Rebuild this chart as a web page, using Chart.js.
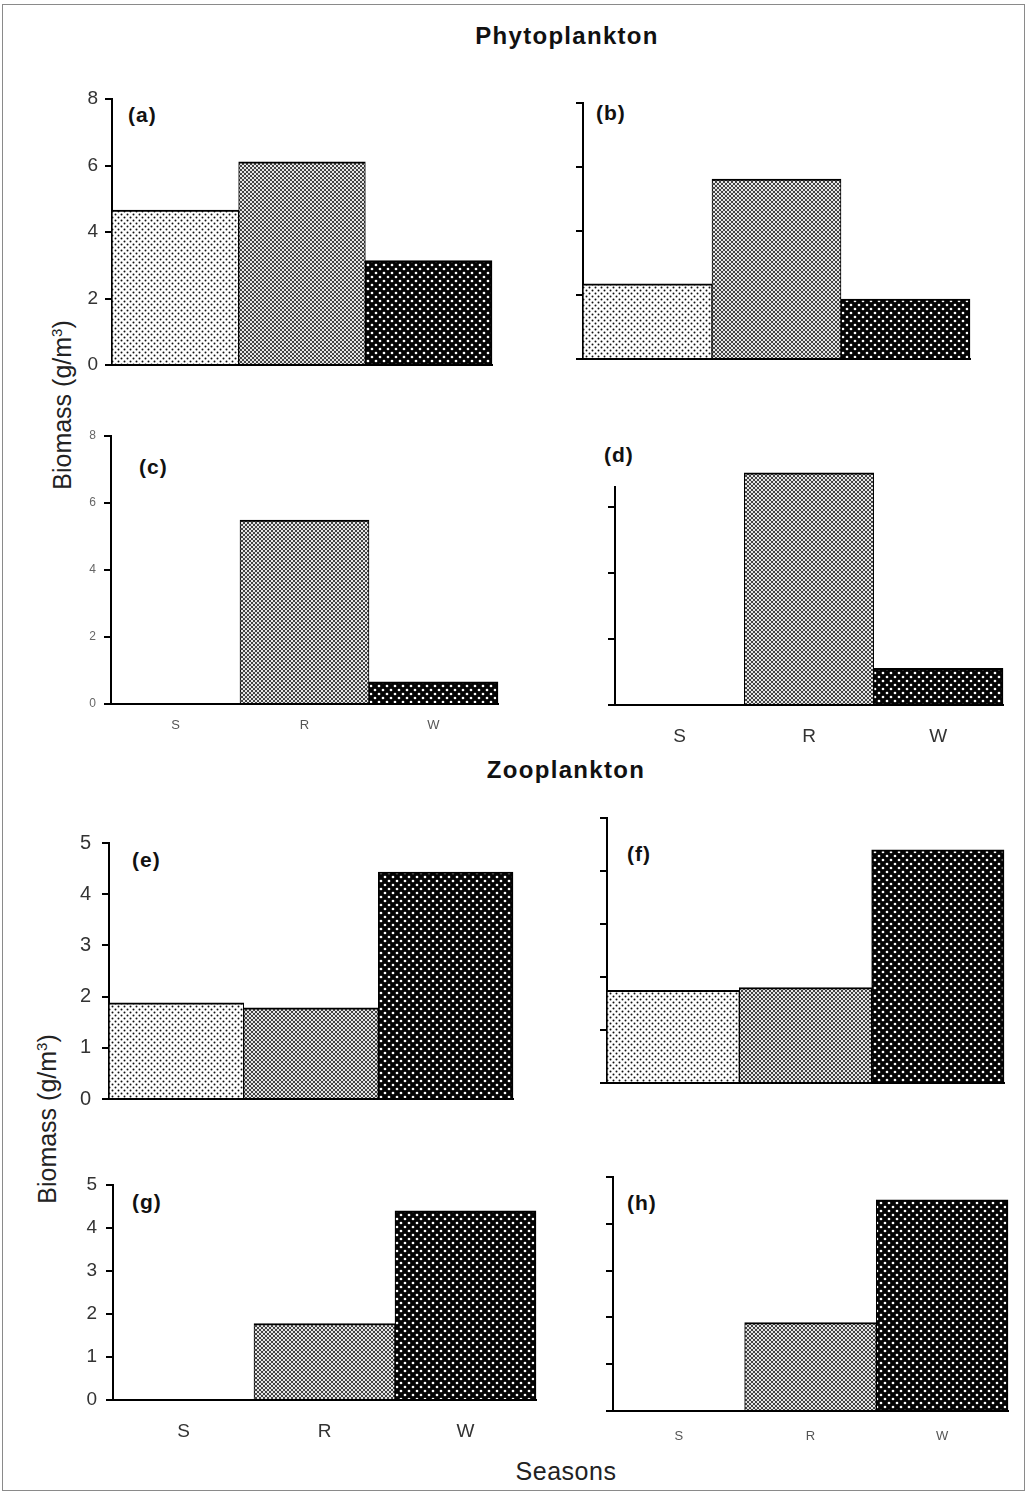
<!DOCTYPE html>
<html><head><meta charset="utf-8">
<script src="https://cdn.jsdelivr.net/npm/chart.js@4.4.1/dist/chart.umd.min.js"></script>
<style>
html,body{margin:0;padding:0;background:#fff;}
body{width:1028px;height:1493px;position:relative;overflow:hidden;font-family:"Liberation Sans",Arial,sans-serif;}
.frame{position:absolute;left:2px;top:4px;width:1021px;height:1485px;border:1px solid #8a8a8a;}
canvas{position:absolute;}
.t{position:absolute;line-height:1;white-space:nowrap;color:#111;}
.lbl{font-weight:bold;font-size:21px;letter-spacing:1px;transform:translateY(-50%);}
.ttl{font-weight:bold;font-size:24px;letter-spacing:1.3px;transform:translate(-50%,-50%);}
.ytl{font-size:25px;width:300px;text-align:center;transform:translate(-50%,-50%) rotate(-90deg);color:#222;}
</style></head><body>
<div class="frame"></div>
<div class="t ttl" style="left:567px;top:36px;">Phytoplankton</div>
<div class="t ttl" style="left:566px;top:770px;">Zooplankton</div>
<div class="t" style="left:566px;top:1471px;font-size:25px;letter-spacing:0.5px;transform:translate(-50%,-50%);color:#222;">Seasons</div>
<div class="t ytl" style="left:62px;top:405px;">Biomass (g/m<sup style="font-size:15px;">3</sup>)</div>
<div class="t ytl" style="left:47px;top:1119px;">Biomass (g/m<sup style="font-size:15px;">3</sup>)</div>
<div class="t lbl" style="left:128px;top:114px;">(a)</div>
<div class="t lbl" style="left:596px;top:112px;">(b)</div>
<div class="t lbl" style="left:139px;top:466px;">(c)</div>
<div class="t lbl" style="left:604px;top:454px;">(d)</div>
<div class="t lbl" style="left:132px;top:859px;">(e)</div>
<div class="t lbl" style="left:627px;top:853px;">(f)</div>
<div class="t lbl" style="left:132px;top:1201px;">(g)</div>
<div class="t lbl" style="left:627px;top:1202px;">(h)</div>
<canvas id="ca"></canvas><canvas id="cb"></canvas><canvas id="cc"></canvas><canvas id="cd"></canvas>
<canvas id="ce"></canvas><canvas id="cf"></canvas><canvas id="cg"></canvas><canvas id="ch"></canvas>
<script>
// ---- data ----
const seasons = ['S', 'R', 'W'];
const phytoA = [4.66, 6.11, 3.14];
const phytoB = [2.35, 5.62, 1.87];
const phytoC = [0, 5.49, 0.66];
const phytoD = [0, 7.03, 1.11];
const zooE = [1.88, 1.78, 4.43];
const zooF = [1.75, 1.80, 4.40];
const zooG = [0, 1.78, 4.40];
const zooH = [0, 1.89, 4.51];
const phytoMax = 8, phytoStep = 2;
const zooMax = 5, zooStep = 1;
const phytoDAxisMax = 6.6;

const FONT = '"Liberation Sans", Arial, sans-serif';

function makePattern(kind) {
  const c = document.createElement('canvas');
  const x = c.getContext('2d');
  if (kind === 'S') {
    c.width = 6; c.height = 6;
    x.fillStyle = '#ffffff'; x.fillRect(0, 0, 6, 6);
    x.fillStyle = '#111';
    x.beginPath(); x.arc(1.5, 1.5, 1.0, 0, Math.PI * 2); x.fill();
    x.beginPath(); x.arc(4.5, 4.5, 1.0, 0, Math.PI * 2); x.fill();
  } else if (kind === 'R') {
    c.width = 4; c.height = 4;
    x.fillStyle = '#e6e6e6'; x.fillRect(0, 0, 4, 4);
    x.fillStyle = '#444';
    x.fillRect(0, 0, 2, 2); x.fillRect(2, 2, 2, 2);
  } else {
    c.width = 8; c.height = 8;
    x.fillStyle = '#050505'; x.fillRect(0, 0, 8, 8);
    x.fillStyle = '#ffffff';
    x.beginPath(); x.arc(2, 2, 1.35, 0, Math.PI * 2); x.fill();
    x.beginPath(); x.arc(6, 6, 1.35, 0, Math.PI * 2); x.fill();
  }
  return x.createPattern(c, 'repeat');
}
const pats = [makePattern('S'), makePattern('R'), makePattern('W')];

function panel(id, values, s) {
  const leftW = 70, topPad = 24, rightPad = 12, bottomH = 50;
  const cv = document.getElementById(id);
  const cw = Math.round(s.R - s.L + leftW + rightPad);
  const ch = Math.round(s.B - s.T + topPad + bottomH);
  cv.width = cw; cv.height = ch;
  cv.style.width = cw + 'px'; cv.style.height = ch + 'px';
  cv.style.left = (s.L - leftW) + 'px';
  cv.style.top = (s.T - topPad) + 'px';
  new Chart(cv, {
    type: 'bar',
    data: {
      labels: seasons,
      datasets: [{
        data: values,
        backgroundColor: pats,
        borderColor: '#000',
        borderWidth: (c) => c.dataIndex === 2 ? {top: 2, left: 1, right: 2, bottom: 0} : {top: 2, left: 1, right: 1, bottom: 0},
        borderSkipped: false,
        barPercentage: 1,
        categoryPercentage: 1,
        clip: false
      }]
    },
    options: {
      responsive: false,
      devicePixelRatio: 1,
      animation: false,
      layout: {padding: {top: topPad, right: rightPad, left: 0, bottom: 0}},
      plugins: {legend: {display: false}, tooltip: {enabled: false}},
      scales: {
        x: {
          ticks: {display: !!s.xFont, padding: s.xPad || 0, color: s.xColor || '#333',
                  font: {family: FONT, size: s.xFont || 12}},
          grid: {display: false, drawTicks: false},
          border: {display: true, color: '#000', width: 2},
          afterFit: (sc) => { sc.height = bottomH; }
        },
        y: {
          min: 0, max: s.max,
          ticks: {stepSize: s.step, includeBounds: false, display: !!s.yFont,
                  padding: s.yPad || 8, color: s.yColor || '#333',
                  font: {family: FONT, size: s.yFont || 12}},
          grid: {drawOnChartArea: false, drawTicks: true, tickLength: 7, color: '#000', lineWidth: 2},
          border: {display: true, color: '#000', width: 2},
          afterFit: (sc) => { sc.width = leftW; }
        }
      }
    }
  });
}

panel('ca', phytoA, {L: 112, R: 492, T: 99, B: 365, max: phytoMax, step: phytoStep, yFont: 19, yColor: '#333', yPad: 7});
panel('cb', phytoB, {L: 583, R: 970, T: 103, B: 359, max: phytoMax, step: phytoStep});
panel('cc', phytoC, {L: 111, R: 498, T: 436, B: 704, max: phytoMax, step: phytoStep, yFont: 12, yColor: '#666', yPad: 8,
                     xFont: 13, xColor: '#555', xPad: 14});
panel('cd', phytoD, {L: 615, R: 1003, T: 487, B: 705, max: phytoDAxisMax, step: phytoStep,
                     xFont: 19, xColor: '#333', xPad: 20});
panel('ce', zooE, {L: 109, R: 513, T: 843, B: 1099, max: zooMax, step: zooStep, yFont: 20, yColor: '#333', yPad: 11});
panel('cf', zooF, {L: 607, R: 1004, T: 818, B: 1083, max: zooMax, step: zooStep});
panel('cg', zooG, {L: 113, R: 536, T: 1185, B: 1400, max: zooMax, step: zooStep, yFont: 19, yColor: '#333', yPad: 9,
                   xFont: 19, xColor: '#333', xPad: 20});
panel('ch', zooH, {L: 613, R: 1008, T: 1177, B: 1411, max: zooMax, step: zooStep,
                   xFont: 13, xColor: '#555', xPad: 18});
</script>
</body></html>
